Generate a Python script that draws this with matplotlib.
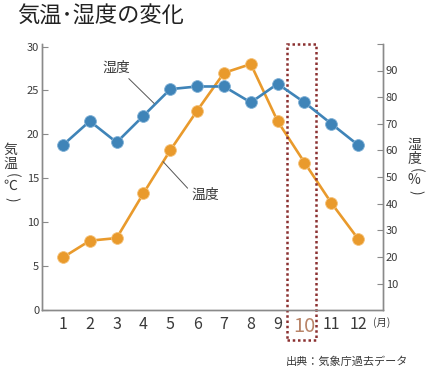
import matplotlib
matplotlib.use("Agg")
import matplotlib.pyplot as plt
import matplotlib.patches as patches
import matplotlib.transforms as mtransforms

plt.rcParams['font.family'] = ['Noto Sans CJK JP', 'DejaVu Sans']

# Data
months = [1, 2, 3, 4, 5, 6, 7, 8, 9, 10, 11, 12]
temperature = [6.0, 7.9, 8.2, 13.3, 18.2, 22.7, 27.0, 28.0, 21.5, 16.8, 12.2, 8.1]
humidity = [62, 71, 63, 73, 83, 84, 84, 78, 85, 78, 70, 62]
month_labels = [str(m) for m in months]
highlight_month = 10

blue = '#3f84b8'
orange = '#e99a2c'
spine_gray = '#8a8a8a'
text_gray = '#3a3a3a'

W, H = 429, 375
fig = plt.figure(figsize=(W / 100, H / 100), dpi=100)
ax = fig.add_axes([0.098, 0.173, 0.795, 0.71])
ax2 = ax.twinx()

# Temperature (left axis)
ax.plot(months, temperature, color=orange, lw=1.9, marker='o', ms=8.5,
        markeredgecolor='#f5c27a', markeredgewidth=0.6, zorder=3)
ax.set_xlim(0.22, 12.93)
ax.set_ylim(0, 30.3)
ax.set_yticks(range(0, 31, 5))
ax.set_xticks(months)
ax.set_xticklabels(month_labels)

# Humidity (right axis)
ax2.plot(months, humidity, color=blue, lw=1.9, marker='o', ms=8.5,
         markeredgecolor='#7fb0d6', markeredgewidth=0.6, zorder=3)
ax2.set_ylim(0, 100)
ax2.set_yticks(range(10, 101, 10))
ax2.set_yticklabels([str(v) for v in range(10, 100, 10)] + [''])

for a in (ax, ax2):
    a.spines['top'].set_visible(False)
    for s in ('left', 'right', 'bottom'):
        a.spines[s].set_color(spine_gray)
        a.spines[s].set_linewidth(1.0)

ax.tick_params(axis='y', direction='in', length=4, color=spine_gray,
               labelsize=8, labelcolor=text_gray, pad=2)
ax2.tick_params(axis='y', direction='in', length=4, color=spine_gray,
                labelsize=8, labelcolor=text_gray, pad=2)
ax.tick_params(axis='x', length=0, labelsize=11.5, labelcolor=text_gray, pad=4)

for lbl in ax.get_xticklabels():
    if lbl.get_text() == str(highlight_month):
        lbl.set_color('#b98468')
        lbl.set_fontsize(14.5)

# Dotted box around October
trans = mtransforms.blended_transform_factory(ax.transData, ax.transAxes)
box = patches.Rectangle((highlight_month - 0.64, -0.113), 1.08, 1.113,
                        transform=trans, fill=False, edgecolor='#8b3030',
                        lw=1.8, linestyle=(0, (1, 1.1)), clip_on=False, zorder=4)
ax.add_patch(box)

# Series labels with leader lines
ax2.annotate('湿度', xy=(4.4, 77.6), xytext=(3.0, 91), fontsize=10,
             color=text_gray, ha='center', va='center',
             arrowprops=dict(arrowstyle='-', color='#555555', lw=0.7,
                             relpos=(0.8, 0.0), shrinkA=1, shrinkB=0))
ax.annotate('温度', xy=(4.73, 16.9), xytext=(6.3, 13.1), fontsize=10,
            color=text_gray, ha='center', va='center',
            arrowprops=dict(arrowstyle='-', color='#555555', lw=0.7,
                            relpos=(0.0, 0.7), shrinkA=1, shrinkB=0))

# Title
fig.text(0.04, 0.957, '気温･湿度の変化', fontsize=16, color='#222222',
         ha='left', va='center')


# Vertical axis labels, one character at a time (pixel positions)
def vertical_label(x, chars, ys):
    for ch, y in zip(chars, ys):
        if ch in '()':
            fig.text((x + 2) / W, 1 - y / H, ch, fontsize=10, color=text_gray,
                     ha='center', va='center', rotation=-90,
                     rotation_mode='anchor')
        else:
            fig.text(x / W, 1 - y / H, ch, fontsize=10, color=text_gray,
                     ha='center', va='center')


vertical_label(10, ['気', '温', '(', '℃', ')'], [150, 164, 175, 186, 199])
vertical_label(414, ['湿', '度', '(', '%', ')'], [145, 159, 170, 180, 192])

fig.text(0.89, 0.14, '(月)', fontsize=7.5, color=text_gray,
         ha='center', va='center')
fig.text(0.951, 0.037, '出典：気象庁過去データ', fontsize=8, color=text_gray,
         ha='right', va='center')

fig.savefig('out.png', dpi=100)
